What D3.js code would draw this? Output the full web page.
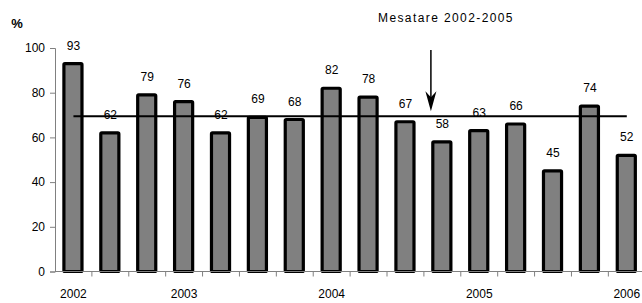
<!DOCTYPE html>
<html lang="en">

<head>
  <meta charset="UTF-8">
  <title>Mesatare</title>
  <script src="https://d3js.org/d3.v7.min.js"></script>
  <style>
    body { margin: 0; background: #fff; }
    text { font-family: "Liberation Sans", Arial, sans-serif; }
  </style>
</head>

<body>
  <script>

    // data
    var values = [93, 62, 79, 76, 62, 69, 68, 82, 78, 67, 58, 63, 66, 45, 74, 52];
    var yearLabels = ["2002", "", "", "2003", "", "", "", "2004", "", "", "", "2005", "", "", "", "2006"];
    var average = 69.5;
    var averageLabel = "Mesatare 2002-2005";
    var yTicks = [0, 20, 40, 60, 80, 100];

    var W = 642, H = 303;
    var margin = { top: 48, right: 0, bottom: 32, left: 55 };

    var svg = d3.select("body").append("svg")
      .attr("width", W)
      .attr("height", H);

    var idx = d3.range(values.length);

    var x = d3.scaleBand()
      .domain(idx)
      .range([margin.left, margin.left + 36.89 * values.length])
      .paddingInner(0.51)
      .paddingOuter(0.255);

    var band = d3.scaleBand().domain(idx).range(x.range());

    var y = d3.scaleLinear().domain([0, 100]).range([271.5, margin.top]);

    // bars
    svg.selectAll("rect.bar")
      .data(values)
      .enter().append("rect")
      .attr("class", "bar")
      .attr("x", function (d, i) { return x(i) - 0.5; })
      .attr("y", function (d) { return y(d); })
      .attr("width", x.bandwidth())
      .attr("height", function (d) { return y(0) - y(d); })
      .attr("fill", "#808080")
      .attr("stroke", "#000")
      .attr("stroke-width", 3.2)
      .attr("rx", 1);

    // value labels
    svg.selectAll("text.val")
      .data(values)
      .enter().append("text")
      .attr("class", "val")
      .attr("x", function (d, i) { return x(i) + x.bandwidth() / 2; })
      .attr("y", function (d) { return y(d) - 14; })
      .attr("text-anchor", "middle")
      .style("font-size", "12px")
      .text(function (d) { return d; });

    // y axis
    var yAxis = svg.append("g")
      .attr("transform", "translate(" + margin.left + ",0)")
      .call(d3.axisLeft(y).tickValues(yTicks).tickSize(5).tickPadding(5));
    yAxis.select(".domain").attr("stroke", "#808080");
    yAxis.selectAll(".tick line").attr("stroke", "#808080");
    yAxis.selectAll("text").style("font-size", "12px").attr("fill", "#000")
      .style("font-family", "'Liberation Sans', Arial, sans-serif");

    // x axis ticks at band edges
    var xAxis = svg.append("g");
    xAxis.append("line")
      .attr("x1", margin.left).attr("x2", W)
      .attr("y1", y(0)).attr("y2", y(0))
      .attr("stroke", "#808080");
    xAxis.selectAll("line.tk")
      .data(d3.range(1, values.length))
      .enter().append("line")
      .attr("class", "tk")
      .attr("x1", function (d) { return band(d); })
      .attr("x2", function (d) { return band(d); })
      .attr("y1", y(0)).attr("y2", y(0) + 5)
      .attr("stroke", "#808080");
    xAxis.selectAll("text")
      .data(yearLabels)
      .enter().append("text")
      .attr("x", function (d, i) { return band(i) + band.bandwidth() / 2; })
      .attr("y", 298)
      .attr("text-anchor", "middle")
      .style("font-size", "12px")
      .text(function (d) { return d; });

    // "%" label
    svg.append("text")
      .attr("x", 17).attr("y", 28)
      .attr("text-anchor", "middle")
      .style("font-size", "13px")
      .style("font-weight", "bold")
      .text("%");

    // average line
    svg.append("line")
      .attr("x1", x(0) + x.bandwidth() / 2)
      .attr("x2", x(values.length - 1) + x.bandwidth() / 2)
      .attr("y1", y(average)).attr("y2", y(average))
      .attr("stroke", "#000")
      .attr("stroke-width", 2);

    // arrow and label
    var ax = band(10) + 7;
    var tip = y(average) - 5;
    svg.append("line")
      .attr("x1", ax).attr("x2", ax)
      .attr("y1", 50).attr("y2", tip - 12)
      .attr("stroke", "#000")
      .attr("stroke-width", 1.5);
    svg.append("path")
      .attr("d", "M" + (ax - 5.5) + "," + (tip - 20) +
        "L" + ax + "," + tip +
        "L" + (ax + 5.5) + "," + (tip - 20) +
        "L" + ax + "," + (tip - 14) + "Z")
      .attr("fill", "#000");
    svg.append("text")
      .attr("x", 378).attr("y", 22)
      .style("font-size", "12px")
      .style("letter-spacing", "1.4px")
      .text(averageLabel);

  </script>
</body>

</html>
